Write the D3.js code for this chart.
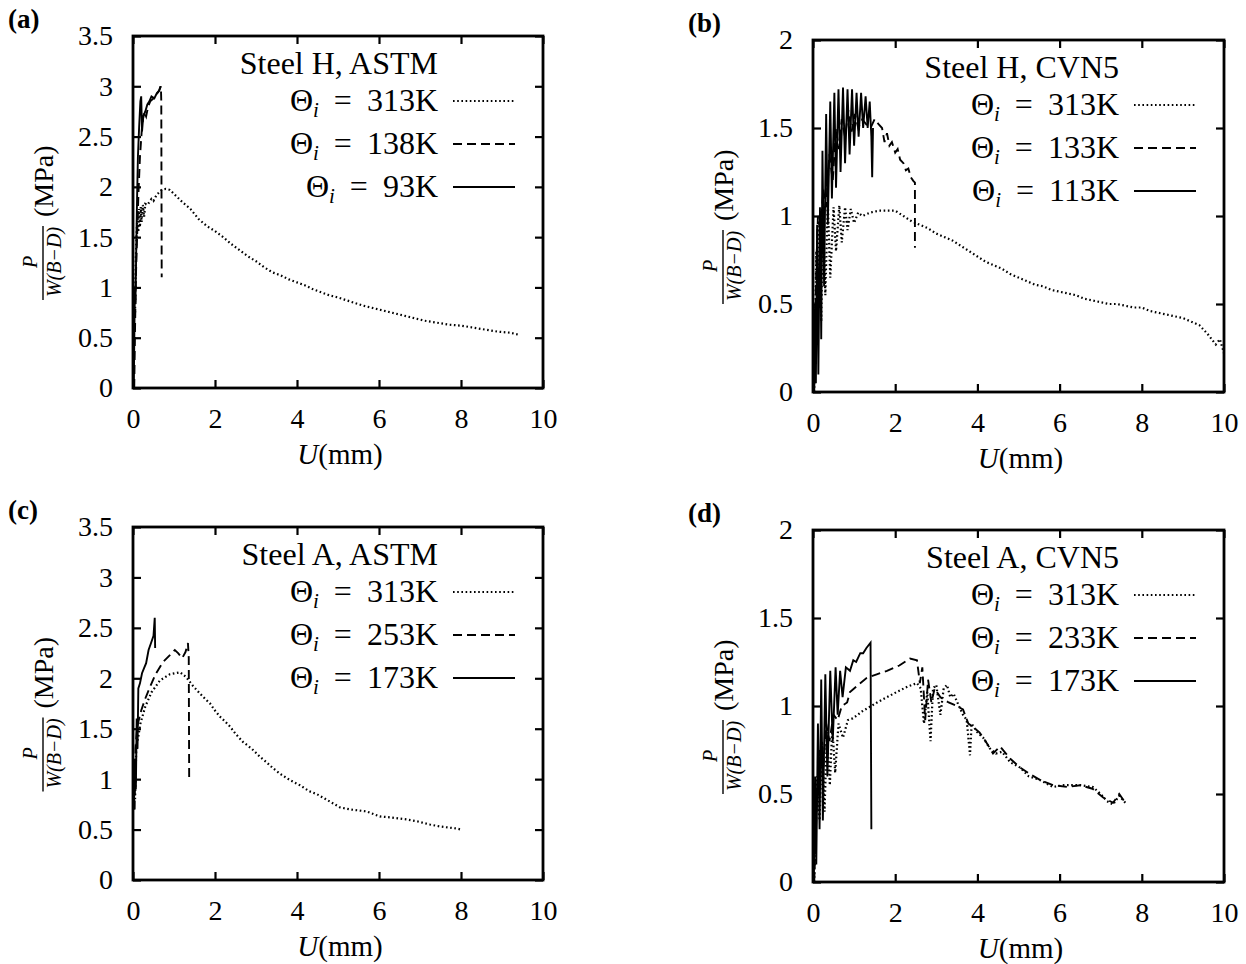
<!DOCTYPE html>
<html lang="en">
<head>
<meta charset="UTF-8">
<script src="https://cdnjs.cloudflare.com/ajax/libs/d3/7.9.0/d3.min.js"></script>
<title>Load-displacement curves</title>
<style>
  body { margin: 0; background: white; }
  svg { display: block; }
  text { font-family: "Liberation Serif", "Times New Roman", serif; fill: black; }
</style>
</head>
<body>
<div id="content"></div>
<script>
// ---- data: [U (mm), P/W(B-D) (MPa)] ----
const xTickValues = [0, 2, 4, 6, 8, 10];
const yTicksASTM = [0, 0.5, 1, 1.5, 2, 2.5, 3, 3.5];
const yTicksCVN = [0, 0.5, 1, 1.5, 2];

// (a) Steel H, ASTM
const a313 = [[0.05,0.75],[0.07,1.3],[0.09,1.55],[0.11,1.75],[0.13,1.55],[0.15,1.78],[0.17,1.6],[0.19,1.8],[0.21,1.65],[0.24,1.82],[0.27,1.7],[0.3,1.83],[0.35,1.82],[0.4,1.85],[0.45,1.88],[0.5,1.86],[0.55,1.9],[0.6,1.93],[0.65,1.95],[0.7,1.97],[0.8,1.98],[0.9,1.97],[1.0,1.93],[1.2,1.85],[1.4,1.78],[1.6,1.68],[1.8,1.61],[2.0,1.56],[2.2,1.5],[2.4,1.43],[2.6,1.37],[2.8,1.31],[3.0,1.26],[3.2,1.2],[3.4,1.15],[3.6,1.12],[3.8,1.08],[4.0,1.05],[4.2,1.02],[4.4,0.98],[4.6,0.95],[4.8,0.92],[5.0,0.9],[5.3,0.86],[5.6,0.82],[5.9,0.79],[6.2,0.76],[6.5,0.73],[6.8,0.7],[7.1,0.67],[7.4,0.65],[7.7,0.63],[8.0,0.62],[8.3,0.6],[8.6,0.58],[8.9,0.56],[9.2,0.55],[9.4,0.53]];
const a138 = [[0.03,0],[0.05,0.6],[0.07,1.1],[0.1,1.5],[0.13,1.9],[0.17,2.3],[0.22,2.6],[0.27,2.75],[0.32,2.7],[0.37,2.8],[0.42,2.85],[0.5,2.88],[0.57,2.92],[0.63,2.95],[0.68,3.0],[0.69,2.85],[0.7,1.1]];
const a93 = [[0.02,0.05],[0.04,0.8],[0.05,1.0],[0.06,0.85],[0.08,1.4],[0.1,1.9],[0.12,2.3],[0.15,2.6],[0.18,2.85],[0.2,2.9],[0.22,2.55],[0.25,2.7],[0.3,2.75],[0.35,2.82],[0.4,2.85],[0.45,2.9],[0.52,2.88],[0.58,2.93],[0.64,2.96],[0.67,3.0]];

// (b) Steel H, CVN5
const b313 = [[0.03,0],[0.08,0.8],[0.12,0.6],[0.16,1.0],[0.2,0.4],[0.24,1.05],[0.3,0.55],[0.36,1.08],[0.42,0.65],[0.5,1.05],[0.56,0.8],[0.64,1.06],[0.7,0.85],[0.78,1.05],[0.84,0.92],[0.92,1.04],[1.0,0.96],[1.1,1.02],[1.2,1.0],[1.4,1.02],[1.6,1.03],[1.8,1.03],[2.0,1.03],[2.2,1.0],[2.4,0.97],[2.6,0.95],[2.8,0.93],[3.0,0.9],[3.2,0.88],[3.4,0.86],[3.6,0.83],[3.8,0.8],[4.0,0.77],[4.2,0.74],[4.4,0.72],[4.6,0.7],[4.8,0.67],[5.0,0.65],[5.2,0.63],[5.4,0.61],[5.6,0.6],[5.8,0.58],[6.0,0.57],[6.2,0.56],[6.4,0.55],[6.6,0.53],[6.8,0.52],[7.0,0.51],[7.2,0.5],[7.4,0.5],[7.6,0.49],[7.8,0.48],[8.0,0.48],[8.2,0.46],[8.4,0.45],[8.6,0.44],[8.8,0.43],[9.0,0.42],[9.2,0.4],[9.4,0.38],[9.6,0.33],[9.7,0.3],[9.8,0.27],[9.9,0.3],[10.0,0.22]];
const b133 = [[0.03,0],[0.08,0.7],[0.12,1.0],[0.18,0.9],[0.25,1.15],[0.32,1.05],[0.4,1.35],[0.48,1.2],[0.56,1.5],[0.63,1.38],[0.7,1.55],[0.78,1.45],[0.86,1.6],[0.94,1.48],[1.02,1.58],[1.1,1.5],[1.2,1.55],[1.3,1.52],[1.4,1.5],[1.5,1.55],[1.6,1.52],[1.68,1.5],[1.74,1.42],[1.8,1.47],[1.86,1.4],[1.92,1.42],[2.0,1.36],[2.06,1.38],[2.12,1.32],[2.2,1.3],[2.26,1.26],[2.32,1.27],[2.38,1.22],[2.44,1.2],[2.48,1.19],[2.48,0.82]];
const b113 = [[0.02,0],[0.05,0.5],[0.07,0.05],[0.1,0.95],[0.13,0.1],[0.17,1.05],[0.2,0.3],[0.23,1.37],[0.27,0.6],[0.32,1.58],[0.36,0.95],[0.42,1.65],[0.46,1.1],[0.52,1.7],[0.56,1.16],[0.62,1.72],[0.67,1.25],[0.73,1.73],[0.78,1.3],[0.84,1.72],[0.89,1.35],[0.95,1.72],[1.0,1.4],[1.06,1.7],[1.11,1.45],[1.17,1.7],[1.22,1.5],[1.28,1.68],[1.33,1.5],[1.38,1.65],[1.42,1.45],[1.44,1.22],[1.46,1.5]];

// (c) Steel A, ASTM
const c313 = [[0.05,0.8],[0.08,1.32],[0.12,1.4],[0.18,1.55],[0.3,1.72],[0.45,1.86],[0.66,1.98],[0.9,2.04],[1.15,2.06],[1.3,2.01],[1.45,1.93],[1.63,1.85],[1.75,1.8],[1.88,1.75],[2.0,1.68],[2.12,1.62],[2.25,1.57],[2.37,1.52],[2.5,1.45],[2.68,1.37],[2.9,1.3],[3.1,1.22],[3.25,1.17],[3.41,1.11],[3.6,1.05],[3.83,0.99],[4.07,0.94],[4.3,0.88],[4.49,0.85],[4.75,0.79],[5.05,0.72],[5.3,0.7],[5.5,0.69],[5.7,0.68],[6.02,0.63],[6.3,0.62],[6.68,0.6],[6.95,0.58],[7.24,0.55],[7.5,0.53],[7.7,0.52],[7.9,0.51],[8.0,0.5]];
const c253 = [[0.04,0.7],[0.06,1.3],[0.1,1.52],[0.2,1.68],[0.3,1.8],[0.41,1.91],[0.55,2.04],[0.73,2.16],[0.9,2.23],[1.02,2.28],[1.1,2.25],[1.2,2.2],[1.28,2.26],[1.34,2.35],[1.36,2.2],[1.37,1.0]];
const c173 = [[0.02,0.7],[0.05,1.2],[0.07,0.9],[0.09,1.6],[0.11,1.3],[0.13,1.9],[0.17,1.95],[0.22,2.05],[0.27,2.1],[0.32,2.15],[0.38,2.28],[0.44,2.35],[0.5,2.42],[0.53,2.6],[0.54,2.3]];

// (d) Steel A, CVN5
const d313 = [[0.03,0],[0.1,0.6],[0.16,0.35],[0.22,0.8],[0.28,0.4],[0.34,0.85],[0.41,0.55],[0.47,0.88],[0.54,0.62],[0.62,0.9],[0.73,0.82],[0.85,0.92],[0.97,0.93],[1.2,0.97],[1.56,1.02],[1.8,1.05],[2.04,1.08],[2.3,1.11],[2.53,1.13],[2.62,1.1],[2.7,0.9],[2.78,1.08],[2.86,0.8],[2.92,1.1],[3.0,1.12],[3.1,0.95],[3.18,1.1],[3.26,1.12],[3.34,1.05],[3.42,1.07],[3.55,1.0],[3.65,0.95],[3.74,0.92],[3.82,0.72],[3.86,0.9],[4.0,0.85],[4.14,0.82],[4.3,0.76],[4.45,0.73],[4.6,0.74],[4.8,0.68],[5.04,0.65],[5.25,0.6],[5.52,0.58],[5.84,0.54],[6.1,0.55],[6.5,0.55],[6.81,0.54],[7.0,0.5],[7.15,0.46],[7.3,0.44],[7.45,0.49],[7.6,0.45]];
const d233 = [[0.03,0],[0.1,0.5],[0.16,0.75],[0.24,0.6],[0.32,0.9],[0.4,0.8],[0.5,0.95],[0.6,0.92],[0.7,1.0],[0.83,1.02],[0.9,1.08],[1.1,1.12],[1.31,1.16],[1.55,1.18],[1.8,1.2],[2.1,1.23],[2.36,1.27],[2.53,1.26],[2.6,1.13],[2.66,1.22],[2.73,0.92],[2.8,1.15],[2.88,1.02],[2.96,1.1],[3.1,1.05],[3.3,1.02],[3.5,1.0],[3.65,0.98],[3.78,0.9],[3.9,0.88],[4.05,0.85],[4.2,0.8],[4.38,0.73],[4.55,0.77],[4.8,0.7],[5.04,0.65],[5.3,0.61],[5.52,0.58],[5.84,0.55],[6.2,0.54],[6.5,0.55],[6.8,0.53],[7.06,0.48],[7.3,0.45],[7.45,0.5],[7.54,0.47],[7.62,0.44]];
const d173 = [[0.02,0],[0.05,0.6],[0.08,0.1],[0.12,0.9],[0.16,0.3],[0.2,1.15],[0.24,0.35],[0.3,1.18],[0.35,0.6],[0.42,1.2],[0.48,0.8],[0.55,1.22],[0.6,0.95],[0.66,1.2],[0.72,1.05],[0.8,1.22],[0.9,1.2],[0.98,1.26],[1.05,1.25],[1.15,1.3],[1.22,1.3],[1.3,1.33],[1.4,1.36],[1.42,0.3]];

const panels = [
  { tag: "(a)", title: "Steel H, ASTM", left: 133, top: 36, w: 410, h: 352, yMax: 3.5, yTicks: yTicksASTM,
    series: [{ name: "313K", data: a313, style: "dot" }, { name: "138K", data: a138, style: "dash" }, { name: "93K", data: a93, style: "solid" }] },
  { tag: "(b)", title: "Steel H, CVN5", left: 813, top: 40, w: 411, h: 352, yMax: 2, yTicks: yTicksCVN,
    series: [{ name: "313K", data: b313, style: "dot" }, { name: "133K", data: b133, style: "dash" }, { name: "113K", data: b113, style: "solid" }] },
  { tag: "(c)", title: "Steel A, ASTM", left: 133, top: 527, w: 410, h: 353, yMax: 3.5, yTicks: yTicksASTM,
    series: [{ name: "313K", data: c313, style: "dot" }, { name: "253K", data: c253, style: "dash" }, { name: "173K", data: c173, style: "solid" }] },
  { tag: "(d)", title: "Steel A, CVN5", left: 813, top: 530, w: 411, h: 352, yMax: 2, yTicks: yTicksCVN,
    series: [{ name: "313K", data: d313, style: "dot" }, { name: "233K", data: d233, style: "dash" }, { name: "173K", data: d173, style: "solid" }] }
];

const dashes = { dot: "1.6,2.6", dash: "9,5", solid: null };

const svg = d3.select("#content").append("svg")
  .attr("width", 1246)
  .attr("height", 964);

panels.forEach(p => {
  const x = d3.scaleLinear().domain([0, 10]).range([p.left, p.left + p.w]);
  const y = d3.scaleLinear().domain([0, p.yMax]).range([p.top + p.h, p.top]);
  const g = svg.append("g");

  // ticks on all four sides, pointing inwards
  g.append("g").attr("transform", `translate(0,${p.top + p.h})`)
    .call(d3.axisBottom(x).tickValues(xTickValues).tickSize(-8).tickSizeOuter(0).tickPadding(20).tickFormat(d3.format("~g")))
    .call(s => s.select(".domain").remove())
    .call(s => s.selectAll("text").attr("font-size", 28).attr("dy", "0.72em").style("font-family", "Liberation Serif"));
  g.append("g").attr("transform", `translate(0,${p.top})`)
    .call(d3.axisTop(x).tickValues(xTickValues).tickSize(-8).tickFormat(""))
    .call(s => s.select(".domain").remove());
  g.append("g").attr("transform", `translate(${p.left},0)`)
    .call(d3.axisLeft(y).tickValues(p.yTicks).tickSize(-8).tickPadding(20).tickFormat(d3.format("~g")))
    .call(s => s.select(".domain").remove())
    .call(s => s.selectAll("text").attr("font-size", 28).style("font-family", "Liberation Serif"));
  g.append("g").attr("transform", `translate(${p.left + p.w},0)`)
    .call(d3.axisRight(y).tickValues(p.yTicks).tickSize(-8).tickFormat(""))
    .call(s => s.select(".domain").remove());
  g.selectAll(".tick line").attr("stroke", "black").attr("stroke-width", 2.2);

  // frame
  g.append("rect")
    .attr("x", p.left).attr("y", p.top).attr("width", p.w).attr("height", p.h)
    .attr("fill", "none").attr("stroke", "black").attr("stroke-width", 2.8);

  // curves
  const line = d3.line().x(d => x(d[0])).y(d => y(d[1]));
  p.series.forEach(s => {
    g.append("path")
      .datum(s.data)
      .attr("d", line)
      .attr("fill", "none")
      .attr("stroke", "black")
      .attr("stroke-width", s.style === "dot" ? 2.2 : 1.9)
      .attr("stroke-dasharray", dashes[s.style]);
  });

  // legend: key texts right-aligned, sample line to their right
  const sx2 = p.left + p.w - 28;
  const sx1 = sx2 - 62;
  const tx = sx1 - 15;
  g.append("text").attr("x", tx).attr("y", p.top + 38)
    .attr("text-anchor", "end").attr("font-size", 32).text(p.title);
  p.series.forEach((s, i) => {
    const ly = p.top + 75 + i * 43;
    const t = g.append("text").attr("x", tx).attr("y", ly)
      .attr("text-anchor", "end").attr("font-size", 32);
    t.append("tspan").text("\u0398");
    t.append("tspan").attr("font-style", "italic").attr("font-size", 21).attr("dy", 6).text("i");
    t.append("tspan").attr("dy", -6).attr("dx", 15).text("=");
    t.append("tspan").attr("dx", 15).text(s.name);
    g.append("line")
      .attr("x1", sx1).attr("x2", sx2).attr("y1", ly - 10).attr("y2", ly - 10)
      .attr("stroke", "black")
      .attr("stroke-width", s.style === "dot" ? 2.2 : 1.9)
      .attr("stroke-dasharray", dashes[s.style]);
  });

  // x axis title
  const xt = g.append("text").attr("x", p.left + p.w / 2 + 2).attr("y", p.top + p.h + 76)
    .attr("text-anchor", "middle").attr("font-size", 29);
  xt.append("tspan").attr("font-style", "italic").text("U");
  xt.append("tspan").text("(mm)");

  // y axis title: fraction plus unit, rotated
  const yl = g.append("g")
    .attr("transform", `translate(${p.left - 90},${p.top + p.h / 2 + 10}) rotate(-90)`);
  yl.append("text").attr("x", -40).attr("y", -6).attr("text-anchor", "middle")
    .attr("font-size", 20).attr("font-style", "italic").text("P");
  yl.append("line").attr("x1", -78).attr("x2", -4).attr("y1", 0).attr("y2", 0)
    .attr("stroke", "black").attr("stroke-width", 1.4);
  yl.append("text").attr("x", -40).attr("y", 18).attr("text-anchor", "middle")
    .attr("font-size", 20).attr("font-style", "italic").text("W(B\u2212D)");
  yl.append("text").attr("x", 5).attr("y", 10).attr("text-anchor", "start")
    .attr("font-size", 28).text("(MPa)");

  // panel tag
  svg.append("text").attr("x", p.left - 125).attr("y", p.top - 8)
    .attr("font-size", 27).attr("font-weight", "bold").text(p.tag);
});
</script>
</body>
</html>
